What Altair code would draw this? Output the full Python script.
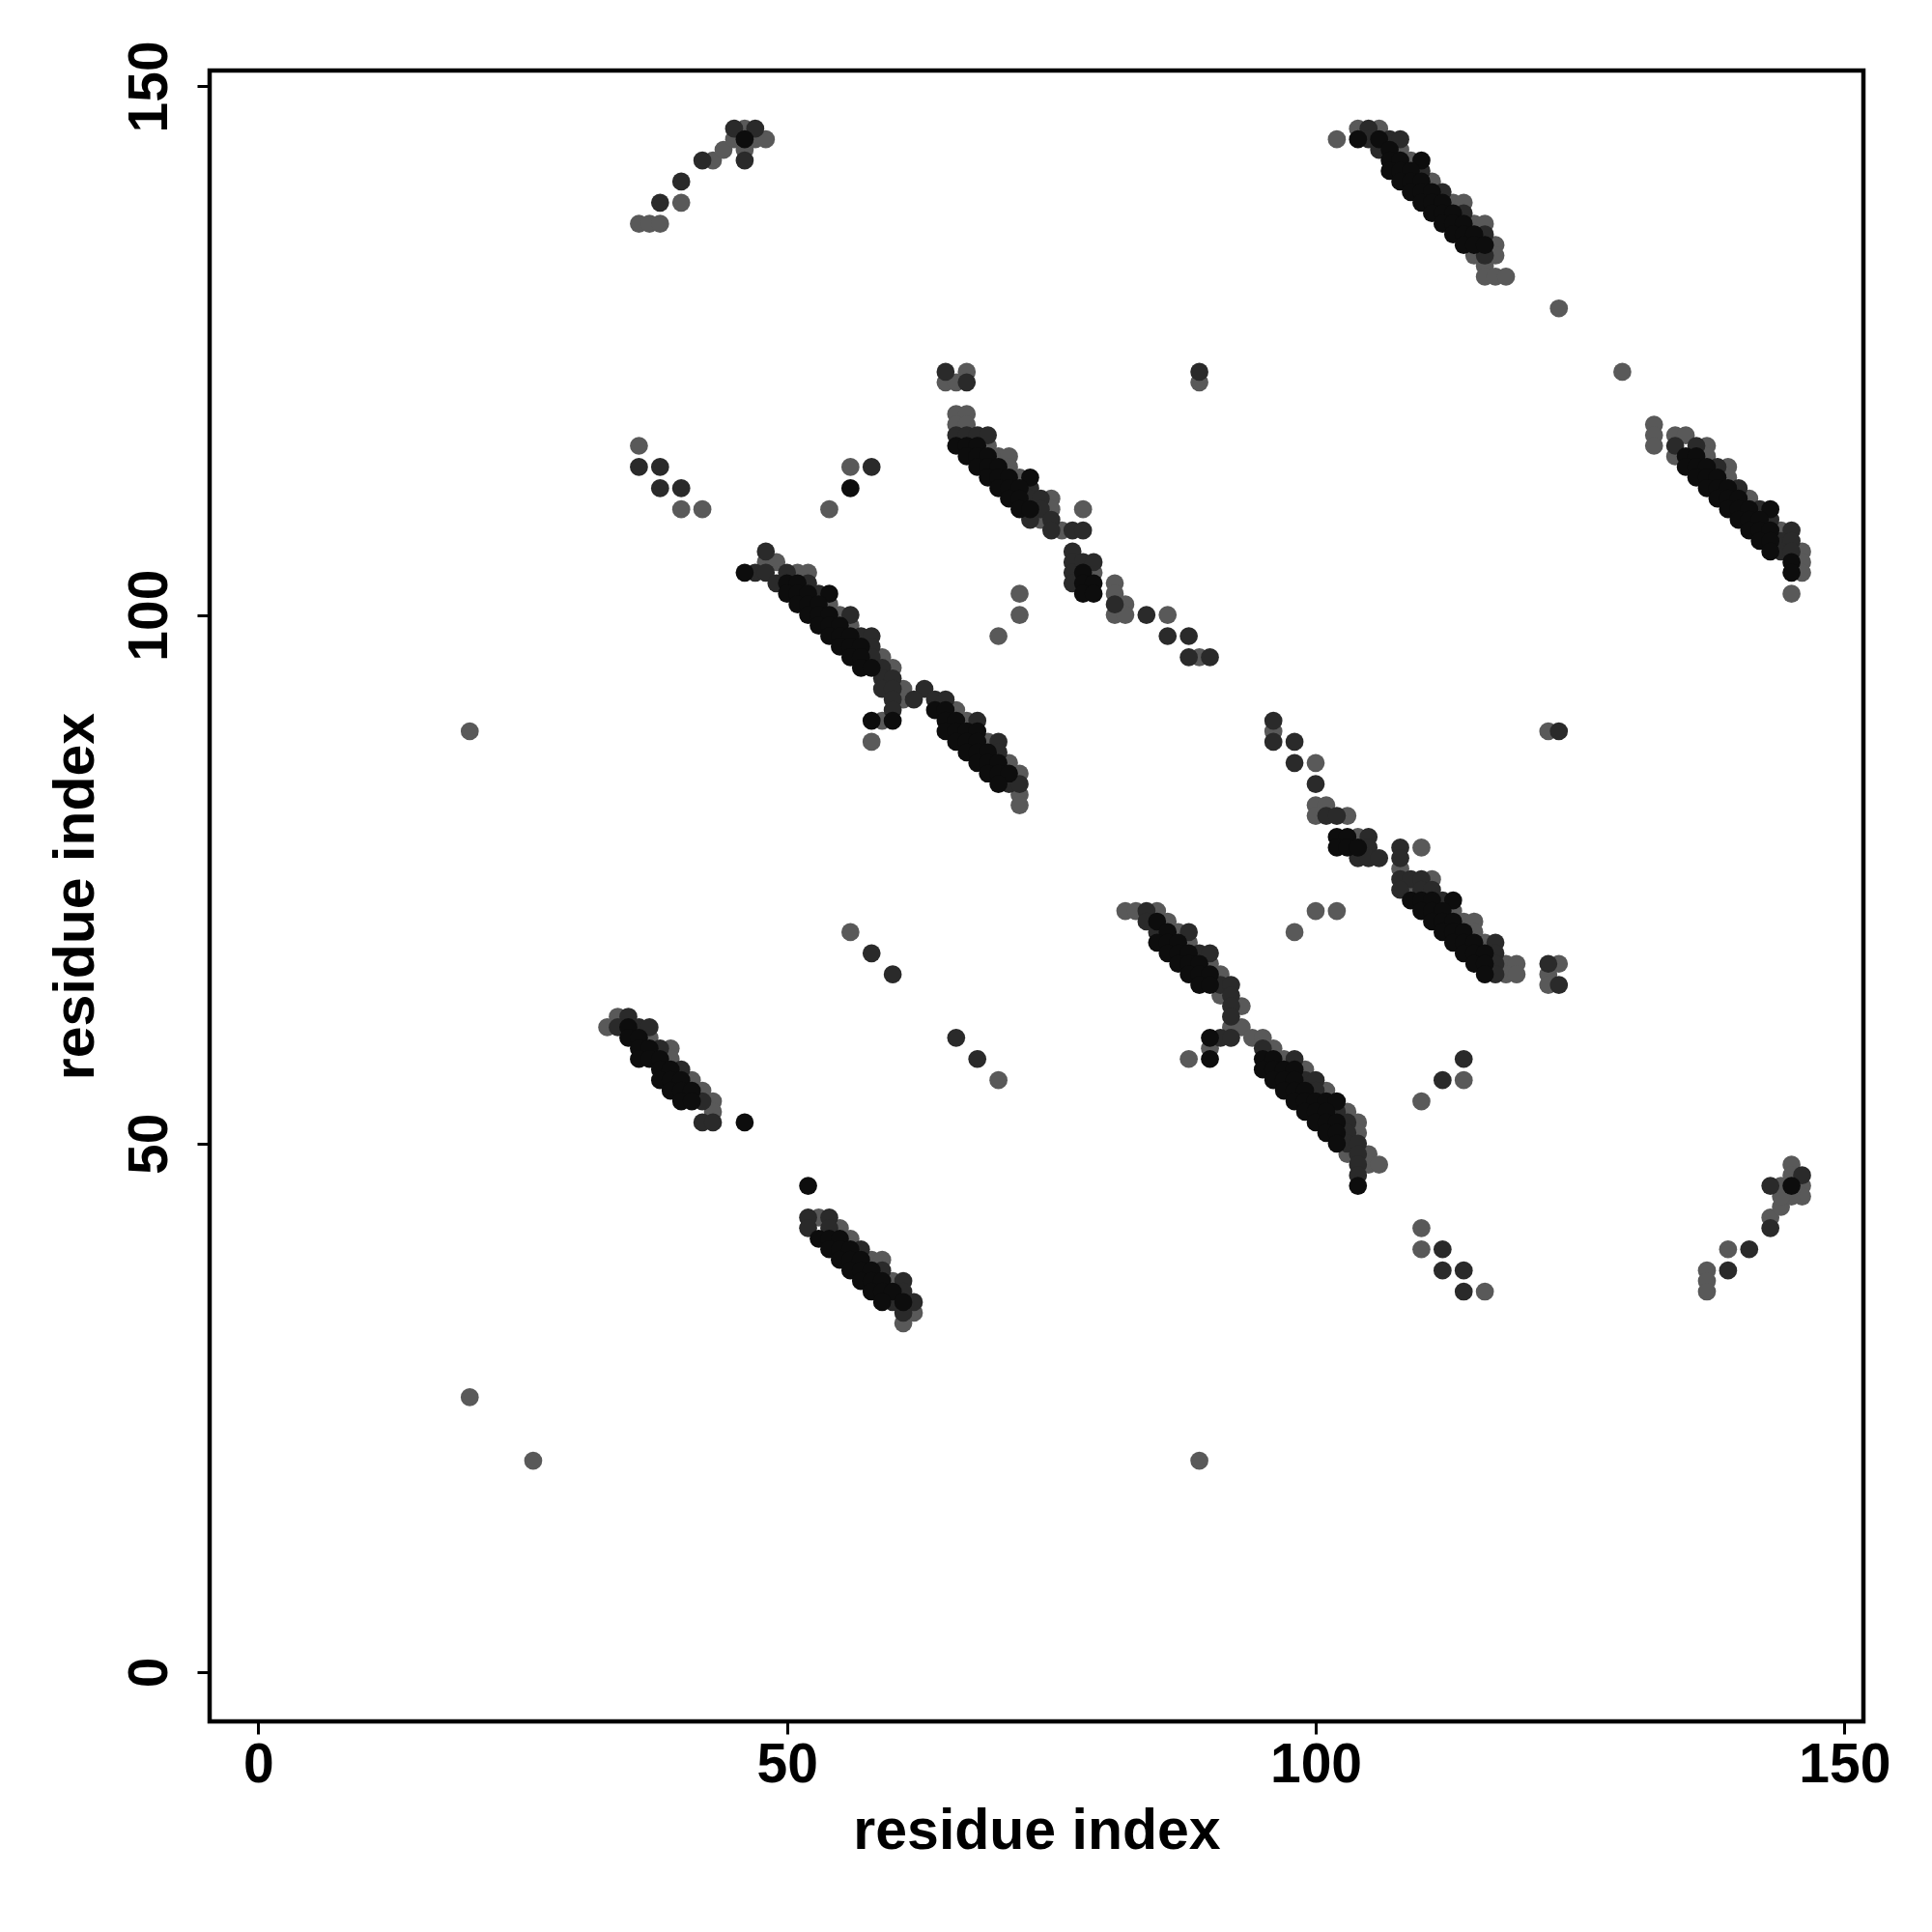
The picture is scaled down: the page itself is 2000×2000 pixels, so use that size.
import altair as alt
import pandas as pd

# (x residue, y residue, shade level 1=gray, 2=dark, 3=black)
top_left = [(36,137,1),(37,137,1),(38,137,1),(38,139,2),(40,139,1),(40,141,2),(42,143,2),(43,143,1),
            (44,144,1),(45,145,1),(45,146,2),(46,146,1),(47,146,2),(46,145,3),(47,145,1),(48,145,1),
            (46,143,2),(46,144,1)]

top_right = [(104,146,1),(105,146,2),(106,146,1),
             (102,145,1),(104,145,3),(105,145,2),(106,145,3),(107,145,2),(108,145,2),
             (106,144,2),(107,144,3),(108,144,1),
             (107,143,3),(108,143,3),(109,143,1),(110,143,3),
             (107,142,3),(108,142,3),(109,142,3),(110,142,2),
             (108,141,3),(109,141,3),(110,141,3),(111,141,1),
             (109,140,3),(110,140,3),(111,140,3),(112,140,2),
             (110,139,3),(111,139,3),(112,139,3),(113,139,1),(114,139,1),
             (111,138,3),(112,138,3),(113,138,3),(114,138,2),
             (112,137,3),(113,137,3),(114,137,3),(115,137,1),(116,137,1),
             (113,136,3),(114,136,3),(115,136,3),(116,136,2),
             (114,135,3),(115,135,3),(116,135,3),(117,135,1),
             (115,134,1),(116,134,2),(117,134,1),(116,133,1),
             (116,132,1),(117,132,1),(118,132,1)]

middle = [(65,123,2),(67,123,1),(65,122,1),(66,122,1),(67,122,2),(89,123,2),(89,122,1),
          (66,119,1),(67,119,1),(66,118,1),(67,118,1),
          (66,117,2),(67,117,2),(68,117,2),(69,117,2),
          (66,116,3),(67,116,3),(68,116,3),(69,116,1),
          (67,115,3),(68,115,3),(69,115,3),(70,115,1),(71,115,1),
          (68,114,3),(69,114,3),(70,114,3),(71,114,1),
          (69,113,3),(70,113,3),(71,113,3),(72,113,1),(73,113,3),
          (70,112,3),(71,112,3),(72,112,3),(73,112,2),
          (71,111,3),(72,111,3),(73,111,2),(74,111,2),(75,111,1),
          (72,110,3),(73,110,3),(74,110,2),(75,110,1),(78,110,1),
          (73,109,2),(74,109,1),(75,109,2),
          (75,108,2),(76,108,1),(77,108,2),(78,108,2),
          (77,106,2),(77,105,2),(78,105,2),(79,105,2),
          (77,104,2),(78,104,3),(79,104,1),
          (77,103,2),(78,103,3),(79,103,3),(81,103,1),
          (78,102,3),(79,102,3),(81,102,1),
          (81,101,2),(82,101,1),
          (81,100,1),(82,100,1),(84,100,2),(86,100,1),
          (86,98,2),(88,98,2),(88,96,2),(89,96,1),(90,96,2),
          (72,102,1),(72,100,1),(70,98,1)]

left_dots = [(36,116,1),(36,114,2),(38,114,2),(38,112,2),(40,112,2),(40,110,1),(42,110,1),
             (56,114,1),(58,114,2),(56,112,3),(54,110,1)]

right_band = [(132,118,1),(132,117,1),(134,117,1),(135,117,1),
              (132,116,1),(134,116,2),(136,116,2),(137,116,1),
              (134,115,1),(135,115,3),(136,115,3),(137,115,1),
              (135,114,3),(136,114,3),(137,114,3),(138,114,2),(139,114,1),
              (136,113,3),(137,113,3),(138,113,3),(139,113,1),
              (137,112,3),(138,112,3),(139,112,3),(140,112,2),
              (138,111,3),(139,111,3),(140,111,3),(141,111,1),
              (139,110,3),(140,110,3),(141,110,3),(142,110,2),(143,110,3),
              (140,109,3),(141,109,3),(142,109,3),(143,109,2),
              (141,108,3),(142,108,3),(143,108,3),(144,108,1),(145,108,2),
              (142,107,3),(143,107,3),(144,107,2),(145,107,2),
              (143,106,3),(144,106,2),(145,106,2),(146,106,1),
              (145,105,3),(146,105,1),(145,104,3),(146,104,1),(145,102,1)]

band_e = [(48,106,2),(48,105,1),(49,105,1),
          (46,104,3),(47,104,2),(48,104,2),(50,104,2),(51,104,1),(52,104,1),
          (49,103,2),(50,103,3),(51,103,3),(52,103,2),
          (50,102,3),(51,102,3),(52,102,3),(53,102,2),(54,102,3),
          (51,101,3),(52,101,3),(53,101,3),(54,101,1),
          (52,100,3),(53,100,3),(54,100,3),(55,100,1),(56,100,2),
          (53,99,3),(54,99,3),(55,99,3),(56,99,1),
          (54,98,3),(55,98,3),(56,98,3),(57,98,2),(58,98,2),
          (55,97,3),(56,97,3),(57,97,3),(58,97,2),
          (56,96,3),(57,96,3),(58,96,2),(59,96,1),
          (57,95,3),(58,95,3),(59,95,2),(60,95,1),
          (59,94,2),(60,94,2),
          (59,93,2),(60,93,2),(61,93,1),(63,93,2),
          (60,92,2),(61,92,1),(62,92,2),(64,92,2),(65,92,2),
          (60,91,2),(64,91,3),(65,91,3),(66,91,1),
          (58,90,3),(59,90,1),(60,90,3),(65,90,3),(66,90,3),(67,90,1),(68,90,2),
          (65,89,3),(66,89,3),(67,89,3),(68,89,3),
          (58,88,1),(66,88,3),(67,88,3),(68,88,3),(69,88,1),(70,88,2),
          (67,87,3),(68,87,3),(69,87,3),(70,87,2),
          (68,86,3),(69,86,3),(70,86,3),(71,86,1),
          (69,85,3),(70,85,3),(71,85,3),(72,85,1),
          (70,84,3),(71,84,2),(72,84,2),(72,83,1),(72,82,1)]

band_f = [(96,90,2),(96,89,1),(96,88,2),(98,88,2),(98,86,2),(100,86,1),(100,84,2),
          (100,82,1),(101,82,1),(100,81,1),(101,81,2),(102,81,2),(103,81,1),
          (102,79,3),(103,79,3),(104,79,1),(105,79,2),
          (102,78,3),(103,78,3),(104,78,3),(105,78,2),(108,78,2),(110,78,1),
          (104,77,2),(105,77,2),(106,77,2),(108,77,2),
          (108,76,1),
          (108,75,2),(109,75,2),(110,75,2),(111,75,1),
          (108,74,2),(109,74,1),(110,74,2),(111,74,2),
          (109,73,3),(110,73,3),(111,73,3),(112,73,2),(113,73,3),
          (110,72,3),(111,72,3),(112,72,3),(113,72,1),
          (111,71,3),(112,71,3),(113,71,3),(114,71,1),(115,71,1),
          (112,70,3),(113,70,3),(114,70,3),(115,70,1),
          (113,69,3),(114,69,3),(115,69,3),(116,69,1),(117,69,2),
          (114,68,3),(115,68,3),(116,68,3),(117,68,2),
          (115,67,3),(116,67,3),(117,67,2),(118,67,1),(119,67,1),
          (116,66,3),(117,66,2),(118,66,1),(119,66,1),
          (122,67,2),(123,67,1),(122,66,1),(122,65,1),(123,65,2),
          (122,89,1),(123,89,2),(100,72,1),(102,72,1),(98,70,1)]

band_g = [(82,72,1),(83,72,1),(84,72,2),(85,72,1),
          (84,71,2),(85,71,3),(86,71,1),
          (85,70,2),(86,70,3),(87,70,1),(88,70,2),
          (85,69,3),(86,69,3),(87,69,3),(88,69,1),
          (86,68,3),(87,68,3),(88,68,3),(89,68,2),(90,68,2),
          (87,67,3),(88,67,3),(89,67,3),(90,67,1),
          (88,66,3),(89,66,3),(90,66,3),(91,66,1),
          (89,65,3),(90,65,3),(91,65,2),(92,65,2),
          (91,64,1),(92,64,2),(92,63,2),(93,63,1),(92,62,2),(92,61,1),(93,61,1),
          (90,60,3),(91,60,2),(92,60,2),(94,60,1),(95,60,1),
          (90,59,1),(95,59,2),(96,59,1),
          (88,58,1),(90,58,3),(95,58,3),(96,58,3),(97,58,1),(98,58,2),
          (95,57,3),(96,57,3),(97,57,3),(98,57,3),(99,57,1),
          (96,56,3),(97,56,3),(98,56,3),(99,56,2),(100,56,2),
          (97,55,3),(98,55,3),(99,55,3),(100,55,2),(101,55,1),
          (98,54,3),(99,54,3),(100,54,3),(101,54,3),(102,54,3),
          (99,53,3),(100,53,3),(101,53,3),(102,53,2),(103,53,1),
          (100,52,3),(101,52,3),(102,52,3),(103,52,2),(104,52,1),
          (101,51,3),(102,51,3),(103,51,2),(104,51,1),
          (102,50,3),(103,50,2),(104,50,2),
          (103,49,1),(104,49,2),(105,49,1),
          (104,48,2),(105,48,1),(106,48,1),(104,47,2),(104,46,3),
          (114,58,2),(112,56,2),(114,56,1),(110,54,1)]

band_h = [(34,62,1),(35,62,2),
          (33,61,1),(34,61,2),(35,61,3),(36,61,2),(37,61,2),
          (35,60,3),(36,60,3),(37,60,1),
          (36,59,3),(37,59,3),(38,59,2),(39,59,1),
          (36,58,3),(37,58,3),(38,58,3),(39,58,1),
          (38,57,3),(39,57,3),(40,57,2),
          (38,56,3),(39,56,3),(40,56,3),(41,56,1),
          (39,55,3),(40,55,3),(41,55,3),(42,55,1),
          (40,54,3),(41,54,3),(42,54,2),(43,54,1),
          (43,53,1),(42,52,2),(43,52,2),(46,52,3)]

band_i = [(52,46,3),
          (52,43,2),(53,43,1),(54,43,2),
          (52,42,2),(54,42,2),(55,42,1),
          (53,41,3),(54,41,3),(55,41,3),(56,41,1),
          (54,40,3),(55,40,3),(56,40,3),(57,40,2),
          (55,39,3),(56,39,3),(57,39,3),(58,39,1),(59,39,1),
          (56,38,3),(57,38,3),(58,38,3),(59,38,2),
          (57,37,3),(58,37,3),(59,37,3),(60,37,1),(61,37,2),
          (58,36,3),(59,36,3),(60,36,3),(61,36,2),
          (59,35,3),(60,35,2),(61,35,3),(62,35,2),
          (61,34,2),(62,34,1),(61,33,1)]

bottom_right = [(110,42,1),(110,40,1),(112,40,2),(112,38,2),(114,38,2),(114,36,2),(116,36,1),
                (137,38,1),(137,37,1),(137,36,1),(139,40,1),(139,38,2),(141,40,2),
                (143,42,2),(143,43,1),(144,44,1),(143,46,2),(144,46,1),(145,46,3),
                (145,48,1),(146,47,2),(146,46,1),(146,45,1),(145,45,1),(144,45,1),(145,47,1)]

scattered = [(56,70,1),(58,68,2),(60,66,2),(66,60,2),(68,58,2),(70,56,1),
             (20,89,1),(20,26,1),(26,20,1),(89,20,1),(123,129,1),(129,123,1)]

tick_values = [0, 50, 100, 150]
shade_colors = ["#595959", "#2a2a2a", "#0d0d0d"]

rows = (top_left + top_right + middle + left_dots + right_band + band_e + band_f +
        band_g + band_h + band_i + bottom_right + scattered)
df = pd.DataFrame(rows, columns=["x", "y", "level"])
df = df.sort_values("level", kind="stable").reset_index(drop=True)
df["ord"] = range(len(df))

FONT = "Liberation Sans"
W, H = 1712, 1709

x_axis = alt.Axis(values=tick_values, title="residue index", grid=False, domain=False,
                  ticks=True, tickColor="black", tickWidth=3, tickSize=13,
                  labelFont=FONT, labelFontWeight="bold", labelFontSize=57, labelColor="black",
                  labelPadding=4, labelFlush=False, labelBaseline="top",
                  titleFont=FONT, titleFontWeight="bold", titleFontSize=59, titleColor="black",
                  titleX=W / 2, titleY=131, titleAlign="center", titleBaseline="alphabetic")
y_axis = alt.Axis(values=tick_values, title="residue index", grid=False, domain=False,
                  ticks=True, tickColor="black", tickWidth=3, tickSize=13,
                  labelFont=FONT, labelFontWeight="bold", labelFontSize=57, labelColor="black",
                  labelAngle=270, labelAlign="center", labelBaseline="bottom",
                  labelPadding=20, labelFlush=False,
                  titleFont=FONT, titleFontWeight="bold", titleFontSize=59, titleColor="black",
                  titleAngle=270, titleX=-121, titleY=H / 2, titleAlign="center",
                  titleBaseline="alphabetic")

chart = alt.Chart(df).mark_circle(size=350, opacity=1).encode(
    x=alt.X("x:Q", scale=alt.Scale(domain=[-4.6, 151.8], nice=False, zero=False), axis=x_axis),
    y=alt.Y("y:Q", scale=alt.Scale(domain=[-4.66, 151.5], nice=False, zero=False), axis=y_axis),
    color=alt.Color("level:O", scale=alt.Scale(domain=[1, 2, 3], range=shade_colors), legend=None),
    order=alt.Order("ord:Q"),
).properties(
    width=W, height=H,
    autosize=alt.AutoSizeParams(type="none"),
    padding={"left": 209, "top": 65, "right": 50, "bottom": 150},
    background="white",
).configure_view(stroke="black", strokeWidth=4.5)

chart.save("out.html", embed_options={"renderer": "svg", "actions": False})
